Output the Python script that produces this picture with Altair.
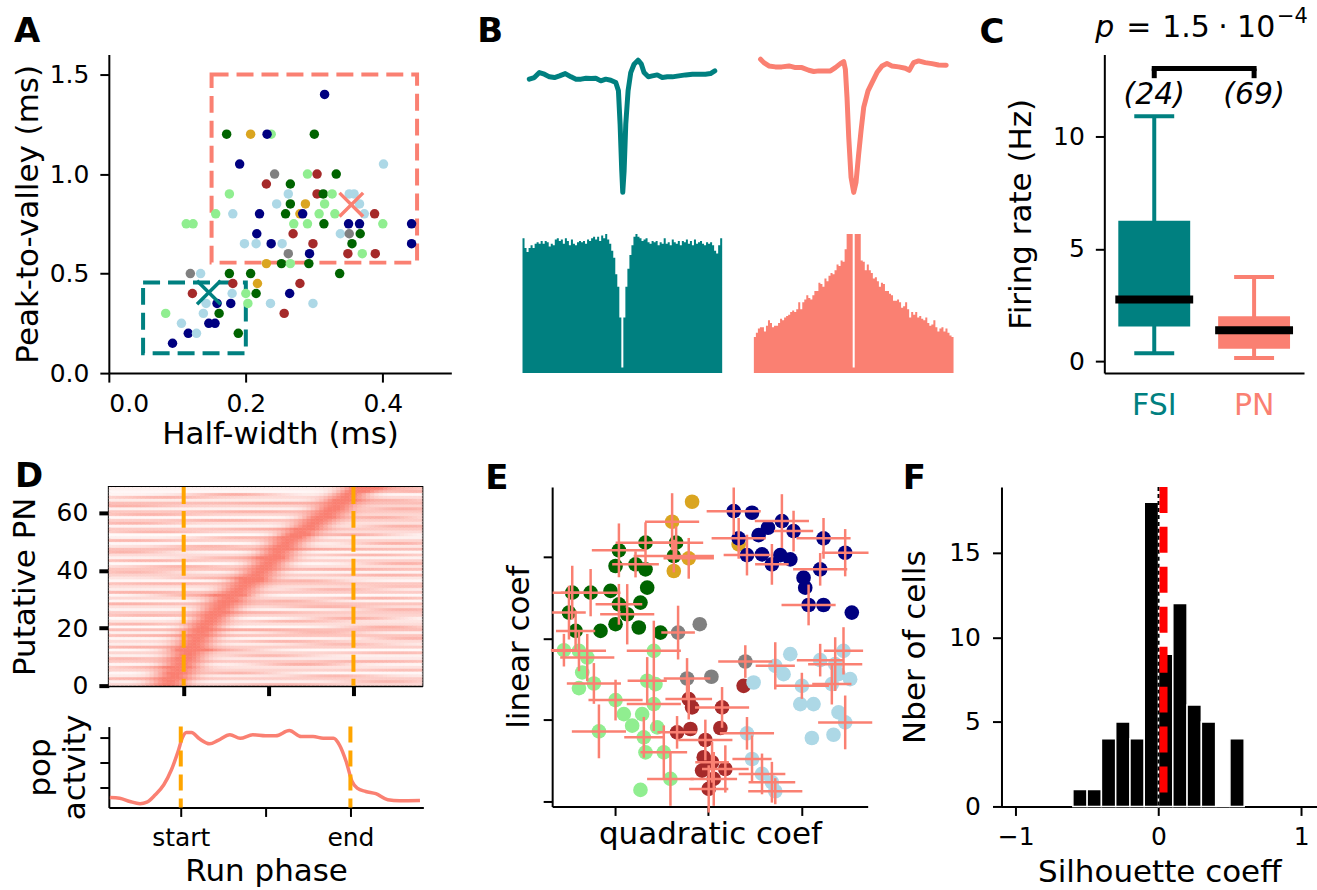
import math
import altair as alt
import pandas as pd

TEAL = "#008080"
SALMON = "#FA8072"
ORANGE = "#FFA500"
FONT = "DejaVu Sans"

# ---------------- Panel A: waveform features ----------------
A_HW = [0.315, 0.172, 0.207, 0.237, 0.231, 0.300, 0.191, 0.401, 0.242, 0.290,
        0.304, 0.332, 0.230, 0.265, 0.176, 0.262, 0.304, 0.313, 0.326, 0.351,
        0.358, 0.245, 0.265, 0.287, 0.315, 0.366, 0.156, 0.181, 0.220, 0.258,
        0.279, 0.283, 0.307, 0.330, 0.373, 0.388, 0.113, 0.123, 0.270, 0.290,
        0.314, 0.350, 0.366, 0.400, 0.442, 0.216, 0.269, 0.338, 0.351, 0.367,
        0.198, 0.215, 0.237, 0.253, 0.298, 0.355, 0.442, 0.262, 0.293, 0.349,
        0.370, 0.389, 0.230, 0.252, 0.265, 0.292, 0.119, 0.134, 0.176, 0.207,
        0.337, 0.181, 0.217, 0.279, 0.122, 0.180, 0.200, 0.215, 0.264, 0.142,
        0.158, 0.178, 0.203, 0.236, 0.298, 0.083, 0.138, 0.161, 0.256, 0.106,
        0.146, 0.155, 0.116, 0.128, 0.189, 0.093]
A_PV = [1.40, 1.20, 1.20, 1.20, 1.20, 1.20, 1.05, 1.05, 1.00, 1.00,
        1.00, 1.00, 0.95, 0.95, 0.90, 0.90, 0.90, 0.90, 0.90, 0.90,
        0.90, 0.85, 0.85, 0.85, 0.85, 0.85, 0.80, 0.80, 0.80, 0.80,
        0.80, 0.80, 0.80, 0.80, 0.80, 0.80, 0.75, 0.75, 0.75, 0.75,
        0.75, 0.75, 0.75, 0.75, 0.75, 0.70, 0.70, 0.70, 0.70, 0.70,
        0.65, 0.65, 0.65, 0.65, 0.65, 0.65, 0.65, 0.60, 0.60, 0.60,
        0.60, 0.60, 0.55, 0.55, 0.55, 0.55, 0.50, 0.50, 0.50, 0.50,
        0.50, 0.45, 0.45, 0.45, 0.40, 0.40, 0.40, 0.40, 0.40, 0.35,
        0.35, 0.35, 0.35, 0.35, 0.35, 0.30, 0.30, 0.30, 0.30, 0.25,
        0.25, 0.25, 0.20, 0.20, 0.20, 0.15]
A_COL = ["navy", "darkgreen", "goldenrod", "lightgreen", "navy", "darkgreen", "navy", "lightblue", "gray", "lightgreen",
         "brown", "darkgreen", "brown", "darkgreen", "lightgreen", "lightblue", "brown", "darkgreen", "lightgreen", "lightblue",
         "lightblue", "lightblue", "darkgreen", "goldenrod", "lightgreen", "lightblue", "lightgreen", "lightblue", "navy", "darkgreen",
         "goldenrod", "navy", "lightgreen", "lightgreen", "lightblue", "brown", "lightgreen", "lightgreen", "lightgreen", "lightgreen",
         "darkgreen", "navy", "navy", "lightgreen", "navy", "navy", "brown", "lightblue", "gray", "darkgreen",
         "lightblue", "lightblue", "navy", "lightblue", "brown", "darkgreen", "navy", "gray", "navy", "brown",
         "lightgreen", "brown", "goldenrod", "darkgreen", "lightgreen", "darkgreen", "gray", "lightblue", "darkgreen", "darkgreen",
         "darkgreen", "brown", "goldenrod", "brown", "brown", "lightblue", "lightgreen", "darkgreen", "navy", "lightblue",
         "navy", "navy", "lightgreen", "lightblue", "lightblue", "lightgreen", "lightblue", "darkgreen", "brown", "lightblue",
         "navy", "navy", "navy", "lightblue", "darkgreen", "navy"]
A_BOX_X1 = [0.05, 0.15]
A_BOX_X2 = [0.20, 0.45]
A_BOX_Y1 = [0.10, 0.555]
A_BOX_Y2 = [0.455, 1.50]
A_BOX_COL = [TEAL, SALMON]
A_CENT_HW = [0.146, 0.354]
A_CENT_PV = [0.405, 0.846]

# ---------------- Panel B: mean waveforms and autocorrelograms ----------------
WT_T = [-1.30, -1.23, -1.16, -1.09, -1.02, -0.95, -0.88, -0.80, -0.72, -0.65,
        -0.58, -0.51, -0.44, -0.375, -0.305, -0.236, -0.167, -0.097, -0.06, -0.037,
        -0.014, 0.0, 0.019, 0.042, 0.074, 0.111, 0.157, 0.213, 0.259, 0.296,
        0.356, 0.412, 0.48, 0.55, 0.62, 0.69, 0.78, 0.875, 0.97, 1.06,
        1.15, 1.22, 1.28]
WT_A = [-6.8, -5.5, -1.4, -2.7, -4.9, -5.5, -4.1, -2.2, -4.9, -6.8,
        -6.8, -6.0, -6.3, -6.0, -8.2, -6.8, -7.7, -9.6, -16.4, -43.8,
        -82.2, -100.0, -82.2, -43.8, -16.4, -1.4, 5.5, 8.8, 5.5, -1.4,
        -4.9, -4.1, -3.3, -5.5, -4.9, -4.9, -4.1, -3.3, -2.7, -2.7,
        -2.7, -2.2, 0.0]
WS_T = [-1.296, -1.25, -1.18, -1.09, -1.0, -0.90, -0.81, -0.72, -0.625, -0.556,
        -0.486, -0.394, -0.324, -0.255, -0.185, -0.139, -0.116, -0.093, -0.069, -0.037,
        0.0, 0.032, 0.069, 0.102, 0.139, 0.199, 0.255, 0.324, 0.394, 0.463,
        0.532, 0.625, 0.718, 0.773, 0.833, 0.903, 0.995, 1.088, 1.18, 1.287]
WS_A = [9.6, 6.8, 4.1, 3.3, 3.3, 4.1, 2.7, 2.7, 0.5, -0.5,
        0.0, 0.0, 0.0, 2.7, 6.0, 7.7, 1.4, -21.9, -54.8, -87.7,
        -100.0, -91.8, -68.5, -49.3, -30.1, -16.4, -9.6, -1.4, 4.1, 6.0,
        4.1, 3.3, 2.2, 0.5, 6.8, 8.2, 6.8, 6.0, 4.9, 4.7]
ACG_T = [0.97, 0.90, 0.87, 0.90, 0.92, 0.90, 0.93, 0.94, 0.93, 0.95,
         0.93, 0.95, 0.94, 0.91, 0.93, 0.92, 0.96, 0.97, 0.95, 0.96,
         0.93, 0.97, 0.95, 0.92, 0.96, 0.93, 0.92, 0.94, 0.95, 0.94,
         0.95, 0.93, 0.96, 0.95, 0.97, 0.98, 0.96, 0.98, 0.95, 0.99,
         0.97, 1.00, 0.96, 0.93, 0.88, 0.83, 0.71, 0.62, 0.40, 0.04,
         0.40, 0.62, 0.75, 0.85, 0.92, 0.98, 1.00, 0.98, 0.97, 0.95,
         0.96, 0.97, 0.94, 0.93, 0.95, 0.94, 0.95, 0.92, 0.94, 0.93,
         0.97, 0.93, 0.94, 0.92, 0.96, 0.94, 0.93, 0.95, 0.92, 0.95,
         0.94, 0.96, 0.93, 0.95, 0.92, 0.96, 0.93, 0.94, 0.95, 0.93,
         0.92, 0.94, 0.93, 0.94, 0.92, 0.88, 0.86, 0.92, 0.97]
ACG_S = [0.26, 0.29, 0.32, 0.33, 0.33, 0.30, 0.34, 0.38, 0.36, 0.33,
         0.34, 0.34, 0.36, 0.39, 0.38, 0.40, 0.41, 0.42, 0.44, 0.45,
         0.44, 0.46, 0.51, 0.46, 0.51, 0.53, 0.56, 0.54, 0.53, 0.56,
         0.59, 0.59, 0.65, 0.64, 0.62, 0.68, 0.66, 0.70, 0.72, 0.71,
         0.74, 0.78, 0.77, 0.81, 0.80, 0.89, 1.00, 1.00, 1.00, 0.04,
         1.00, 1.00, 1.00, 0.81, 0.80, 0.74, 0.78, 0.74, 0.72, 0.68,
         0.69, 0.66, 0.62, 0.65, 0.64, 0.59, 0.59, 0.57, 0.56, 0.52,
         0.52, 0.53, 0.51, 0.47, 0.48, 0.51, 0.46, 0.40, 0.44, 0.42,
         0.44, 0.40, 0.41, 0.39, 0.38, 0.40, 0.36, 0.34, 0.35, 0.38,
         0.33, 0.30, 0.32, 0.33, 0.30, 0.32, 0.29, 0.27, 0.26]

# ---------------- Panel C: firing rates ----------------
C_CAT = ["FSI", "PN"]
C_Q1 = [1.55, 0.55]
C_Q3 = [6.25, 2.00]
C_MED = [2.75, 1.38]
C_LO = [0.35, 0.14]
C_HI = [10.9, 3.75]
C_N = ["(24)", "(69)"]

# ---------------- Panel D: run-phase fields ----------------
D_PEAK = [-0.09, -0.08, -0.06, -0.05, -0.05, -0.03, -0.02, -0.01, 0.00, 0.01,
          0.02, 0.03, 0.04, 0.05, 0.06, 0.07, 0.08, 0.09, 0.10, 0.11,
          0.12, 0.135, 0.15, 0.165, 0.18, 0.20, 0.21, 0.225, 0.24, 0.255,
          0.27, 0.29, 0.31, 0.33, 0.35, 0.37, 0.39, 0.41, 0.43, 0.45,
          0.47, 0.485, 0.50, 0.515, 0.53, 0.545, 0.56, 0.575, 0.59, 0.605,
          0.62, 0.645, 0.67, 0.695, 0.72, 0.745, 0.77, 0.79, 0.815, 0.84,
          0.86, 0.88, 0.90, 0.92, 0.94, 0.96, 0.98, 1.02, 1.06]
D_BASE = [0.30, 0.10, 0.40, 0.16, 0.06, 0.34, 0.22, 0.08, 0.42, 0.18,
          0.12, 0.32, 0.05, 0.38, 0.14, 0.28, 0.08, 0.46, 0.12, 0.50,
          0.06, 0.26, 0.20, 0.05, 0.34, 0.40, 0.10, 0.24, 0.46, 0.08,
          0.30, 0.06, 0.40, 0.14, 0.26, 0.44, 0.08, 0.20, 0.36, 0.10,
          0.46, 0.24, 0.05, 0.36, 0.12, 0.28, 0.08, 0.50, 0.20, 0.06,
          0.34, 0.12, 0.04, 0.28, 0.42, 0.10, 0.24, 0.38, 0.06, 0.32,
          0.44, 0.12, 0.34, 0.50, 0.16, 0.28, 0.08, 0.06, 0.12]
D_SPOT = [0.60, 1.20, -0.30, 0.90, 0.30, 1.30, -0.20, 0.70, 1.10, -0.35,
          0.50, 1.25, 0.20, -0.25, 0.95, 0.60, 1.35, -0.10, 0.80, 0.40,
          1.20, -0.30, 0.65, 1.00, -0.20, 0.45, 1.30, 0.85, -0.35, 0.60,
          1.15, 0.10, -0.25, 0.90, 1.30, -0.10, 0.70, 0.20, 1.20, -0.30,
          0.95, 0.00, 1.30, -0.20, 0.30, 1.10, -0.35, 0.80, 0.15, 1.25,
          -0.30, 0.35, 1.00, -0.15, 0.50, 1.30, -0.30, 0.25, 1.15, -0.20,
          0.40, 1.30, -0.35, 0.55, 1.20, -0.10, 0.30, 1.35, 1.25]
D_SPOTAMP = [0.35, 0.50, 0.30, 0.45, 0.55, 0.25, 0.40, 0.60, 0.30, 0.45,
             0.50, 0.30, 0.60, 0.35, 0.45, 0.40, 0.55, 0.25, 0.50, 0.30,
             0.60, 0.40, 0.45, 0.60, 0.35, 0.30, 0.55, 0.45, 0.25, 0.55,
             0.40, 0.60, 0.35, 0.50, 0.30, 0.25, 0.55, 0.45, 0.35, 0.50,
             0.25, 0.45, 0.60, 0.35, 0.50, 0.40, 0.55, 0.25, 0.45, 0.60,
             0.35, 0.50, 0.60, 0.40, 0.30, 0.55, 0.45, 0.35, 0.60, 0.40,
             0.30, 0.55, 0.40, 0.25, 0.50, 0.40, 0.60, 0.55, 0.50]
RUN_MARKS = [0.0, 1.0]
POP_X = [-0.418, -0.36, -0.30, -0.24, -0.20, -0.15, -0.10, -0.055, -0.016, 0.01,
         0.033, 0.063, 0.11, 0.17, 0.22, 0.29, 0.35, 0.425, 0.50, 0.56,
         0.64, 0.71, 0.78, 0.84, 0.90, 0.935, 0.975, 1.01, 1.04, 1.09,
         1.15, 1.22, 1.29, 1.41]
POP_Y = [0.60, 0.57, 0.44, 0.35, 0.41, 0.71, 1.11, 1.71, 2.44, 3.00,
         3.20, 3.20, 2.95, 2.75, 2.89, 3.11, 2.97, 3.11, 3.07, 3.07,
         3.28, 3.04, 3.04, 2.97, 2.97, 2.71, 2.04, 1.24, 0.97, 0.84,
         0.75, 0.51, 0.47, 0.48]

# ---------------- Panel E: fit coefficients ----------------
E_Q = [-0.171, -0.385, -0.207, -0.367, 0.328,
       -0.955, -0.670, -0.342, -0.367, -0.991, -0.777, -0.670, -0.652, -0.724, -1.455,
       -1.258, -1.045, -1.490, -0.955, -0.866, -0.742, -0.510, -1.419, -1.152, -0.991,
       -0.321, -0.089, 0.399, -0.225, 0.036,
       0.275, 0.471, 0.791, 0.916, 0.642, 0.542, 0.328, 0.417, 0.578, 0.684,
       0.774, 0.881, 1.023, 1.041, 1.201, 1.237, 1.469, 1.077, 1.237, 1.540,
       -1.544, -1.383, -1.294, -1.348, -1.223, -1.383, -0.991, -0.902, -0.813, -0.688,
       -1.169, -0.670, -0.724, -0.403, -0.474, -0.581, -0.652, -0.563, -0.581, -0.706, -0.545,
       0.381, -0.207, -0.171, 0.150, 0.132, -0.332, -0.189, -0.029, -0.046, 0.043,
       0.185, -0.064, 0.061, 0.007,
       0.881, 0.809, 0.720, 0.488, 1.005, 0.988, 1.130, 1.201, 1.362, 1.451,
       1.398, 1.522, 1.326, 1.398, 1.469, 1.344, 1.112, 0.417, 0.471, 0.578, 0.684, 0.720]
E_L = [3.678, 3.433, 2.984, 2.829, 3.155,
       3.082, 3.176, 3.176, 3.012, 2.890, 2.910, 2.849, 2.624, 2.441, 2.563,
       2.563, 2.584, 2.318, 2.420, 2.298, 2.135, 2.073, 2.094, 2.094, 2.176,
       2.073, 2.176, 1.718, 1.510, 1.531,
       3.563, 3.543, 3.441, 3.318, 3.359, 3.269, 3.229, 3.024, 3.033, 2.910,
       3.024, 2.971, 2.747, 2.624, 2.849, 3.229, 3.053, 2.412, 2.412, 2.318,
       1.857, 1.849, 1.767, 1.584, 1.449, 1.392, 1.245, 1.073, 0.931, 0.788,
       0.861, 0.604, 0.143, 0.278, 0.604, 1.849, 1.482, 1.441, 1.196, 1.073, 0.910,
       1.420, 1.257, 1.155, 1.155, 0.902, 0.849, 0.890, 0.755, 0.543, 0.482,
       0.400, 0.380, 0.278, 0.155,
       1.808, 1.563, 1.665, 1.461, 1.420, 1.196, 1.196, 1.735, 1.686, 1.849,
       1.563, 1.502, 1.441, 1.094, 0.971, 0.820, 0.780, 0.837, 0.522, 0.339, 0.237, 0.127]
E_COL = (["goldenrod"] * 5 + ["darkgreen"] * 20 + ["gray"] * 5 + ["navy"] * 20
         + ["lightgreen"] * 21 + ["brown"] * 14 + ["lightblue"] * 22)
E_QERR = [0, 0.29, 0.27, 0, 0,
          0.29, 0.32, 0.29, 0.43, 0, 0.25, 0, 0, 0, 0.21,
          0.32, 0, 0.18, 0.25, 0.29, 0, 0, 0.21, 0, 0,
          0.18, 0, 0.29, 0.25, 0,
          0.29, 0, 0.29, 0.21, 0, 0, 0.29, 0.25, 0, 0.18,
          0, 0, 0, 0, 0.29, 0.29, 0.25, 0.29, 0, 0,
          0.14, 0.29, 0.29, 0, 0.29, 0, 0.29, 0, 0, 0.21,
          0.29, 0, 0, 0.25, 0.25, 0.29, 0.21, 0, 0.29, 0, 0,
          0, 0.25, 0, 0.29, 0, 0.21, 0, 0.29, 0, 0.18,
          0.25, 0, 0.25, 0.21,
          0, 0, 0.21, 0, 0.29, 0, 0, 0.25, 0.29, 0.21,
          0, 0, 0.21, 0, 0.29, 0, 0, 0.29, 0.21, 0.25, 0.25, 0.29]
E_LERR = [0, 0.35, 0.25, 0, 0,
          0.33, 0.25, 0.20, 0.20, 0, 0.16, 0, 0, 0, 0.33,
          0.29, 0, 0.33, 0.25, 0.37, 0, 0, 0.25, 0, 0,
          0.33, 0, 0.20, 0.25, 0,
          0.29, 0, 0.33, 0.25, 0, 0, 0.25, 0.25, 0, 0.25,
          0, 0, 0, 0, 0.20, 0.25, 0.29, 0.25, 0, 0,
          0.20, 0.25, 0.29, 0, 0.25, 0, 0.25, 0, 0, 0.25,
          0.33, 0, 0, 0.33, 0.33, 0.37, 0.29, 0, 0.33, 0, 0,
          0, 0.25, 0, 0.25, 0, 0.20, 0, 0.25, 0, 0.25,
          0.29, 0, 0.33, 0.29,
          0, 0, 0.29, 0, 0.16, 0, 0, 0.20, 0.33, 0.29,
          0, 0, 0.25, 0, 0.33, 0, 0, 0.20, 0.29, 0.25, 0.25, 0.16]

# ---------------- Panel F: silhouette histogram ----------------
F_LO = [-0.6, -0.5, -0.4, -0.3, -0.2, -0.1, 0.0, 0.1, 0.2, 0.3, 0.4, 0.5]
F_N = [1, 1, 4, 5, 4, 18, 9, 12, 6, 5, 0, 4]
F_MEAN = 0.035

LAB = 25
TIT = 31


def txt(s, x, y, size, **kw):
    return alt.Chart(pd.DataFrame({"t": [s]})).mark_text(
        align="left", baseline="alphabetic", font=FONT, fontSize=size, color="black", **kw
    ).encode(text="t:N", x=alt.value(x), y=alt.value(y))


def letter(ch, x, y):
    return txt(ch, x, y, 34, fontWeight="bold")


# ================= Panel A =================
a_df = pd.DataFrame({"hw": A_HW, "pv": A_PV, "col": A_COL})
box_df = pd.DataFrame({"x1": A_BOX_X1, "x2": A_BOX_X2, "y1": A_BOX_Y1, "y2": A_BOX_Y2, "col": A_BOX_COL})
cent_df = pd.DataFrame({"hw": A_CENT_HW, "pv": A_CENT_PV, "col": A_BOX_COL})
xA = alt.X("hw:Q", scale=alt.Scale(domain=[0, 0.5], nice=False, zero=False),
           axis=alt.Axis(values=[0, 0.2, 0.4], format=".1f", title="Half-width (ms)", labelPadding=9, titlePadding=4))
yA = alt.Y("pv:Q", scale=alt.Scale(domain=[0, 1.6], nice=False, zero=False),
           axis=alt.Axis(values=[0, 0.5, 1.0, 1.5], format=".1f", title="Peak-to-valley (ms)", labelPadding=11, titlePadding=5))
ptsA = alt.Chart(a_df).mark_circle(size=90, opacity=1).encode(x=xA, y=yA, color=alt.Color("col:N", scale=None))
boxesA = alt.Chart(box_df).mark_rect(fillOpacity=0, strokeWidth=4, strokeDash=[17, 8]).encode(
    x=alt.X("x1:Q", scale=alt.Scale(domain=[0, 0.5], nice=False, zero=False)), x2="x2:Q",
    y=alt.Y("y1:Q", scale=alt.Scale(domain=[0, 1.6], nice=False, zero=False)), y2="y2:Q",
    stroke=alt.Stroke("col:N", scale=None))
centA = alt.Chart(cent_df).mark_point(shape="M-1,-1L1,1M-1,1L1,-1", size=560, strokeWidth=3.5, filled=False, opacity=1).encode(
    x="hw:Q", y="pv:Q", stroke=alt.Stroke("col:N", scale=None))
panelA = alt.layer(boxesA, ptsA, centA, letter("A", -95, -13)).properties(width=343, height=319)

# ================= Panel B =================
BW, BH = 432, 319
wy = alt.Scale(domain=[-248.8, 13.42], nice=False, zero=False)
waveT = alt.Chart(pd.DataFrame({"t": WT_T, "a": WT_A})).mark_line(color=TEAL, strokeWidth=5, strokeJoin="round", strokeCap="round").encode(
    x=alt.X("t:Q", axis=None, scale=alt.Scale(domain=[-100.7 / 72, (BW - 100.7) / 72], nice=False, zero=False)),
    y=alt.Y("a:Q", axis=None, scale=wy))
waveS = alt.Chart(pd.DataFrame({"t": WS_T, "a": WS_A})).mark_line(color=SALMON, strokeWidth=5, strokeJoin="round", strokeCap="round").encode(
    x=alt.X("t:Q", axis=None, scale=alt.Scale(domain=[-332.0 / 72, (BW - 332.0) / 72], nice=False, zero=False)),
    y=alt.Y("a:Q", axis=None, scale=wy))
acgy = alt.Scale(domain=[0, 2.29], nice=False, zero=True)
acgT = alt.Chart(pd.DataFrame({"k": list(range(len(ACG_T) + 1)), "h": ACG_T + [ACG_T[-1]]})).mark_area(
    interpolate="step-after", color=TEAL, opacity=1).encode(
    x=alt.X("k:Q", axis=None, scale=alt.Scale(domain=[-0.15, (BW - 0.3) / 2.02], nice=False, zero=False)),
    y=alt.Y("h:Q", axis=None, scale=acgy))
acgS = alt.Chart(pd.DataFrame({"k": list(range(len(ACG_S) + 1)), "h": ACG_S + [ACG_S[-1]]})).mark_area(
    interpolate="step-after", color=SALMON, opacity=1).encode(
    x=alt.X("k:Q", axis=None, scale=alt.Scale(domain=[-232.0 / 2.02, 200.0 / 2.02], nice=False, zero=False)),
    y=alt.Y("h:Q", axis=None, scale=acgy))
panelB = alt.layer(waveT, waveS, acgT, acgS, letter("B", -45, -13)).resolve_scale(
    x="independent", y="independent").properties(width=BW, height=BH)

# ================= Panel C =================
c_df = pd.DataFrame({"cat": C_CAT, "q1": C_Q1, "q3": C_Q3, "med": C_MED, "lo": C_LO, "hi": C_HI, "n": C_N,
                     "ly": [11.85, 11.85], "blo": [12.6, 12.6], "bhi": [13.03, 13.03]})
br_df = pd.DataFrame({"a": ["FSI"], "b": ["PN"], "y": [13.03]})
cScaleX = alt.Scale(domain=C_CAT, paddingInner=0, paddingOuter=0)
cAxisX = alt.Axis(title=None, ticks=False, labelAngle=0, labelFontSize=30, labelPadding=17,
                  labelColor={"condition": {"test": "datum.value === 'FSI'", "value": TEAL}, "value": SALMON})
cScaleY = alt.Scale(domain=[-0.53, 13.65], nice=False, zero=False)
cAxisY = alt.Axis(values=[0, 5, 10], title="Firing rate (Hz)", titlePadding=15, labelPadding=11)


def xC(f="cat"):
    return alt.X(f + ":N", scale=cScaleX, axis=cAxisX, sort=C_CAT)


def yC(f):
    return alt.Y(f + ":Q", scale=cScaleY, axis=cAxisY)


colC = alt.Color("cat:N", scale=alt.Scale(domain=C_CAT, range=[TEAL, SALMON]), legend=None)
baseC = alt.Chart(c_df)
whisk = baseC.mark_rule(strokeWidth=4).encode(x=xC(), y=yC("lo"), y2="hi:Q", color=colC)
boxC = baseC.mark_bar(size=72).encode(x=xC(), y=yC("q1"), y2="q3:Q", color=colC)
capLo = baseC.mark_tick(size=40, thickness=4, opacity=1).encode(x=xC(), y=yC("lo"), color=colC)
capHi = baseC.mark_tick(size=40, thickness=4, opacity=1).encode(x=xC(), y=yC("hi"), color=colC)
medC = baseC.mark_tick(size=78, thickness=8, color="black", opacity=1).encode(x=xC(), y=yC("med"))
brEnds = baseC.mark_rule(strokeWidth=5, color="black").encode(x=xC(), y=yC("blo"), y2="bhi:Q")
brTop = alt.Chart(br_df).mark_rule(strokeWidth=5, color="black", strokeCap="square").encode(
    x=alt.X("a:N", scale=cScaleX, axis=cAxisX), x2="b:N", y=yC("y"))
nLab = baseC.mark_text(fontStyle="italic", fontSize=30, font=FONT, baseline="middle", color="black").encode(
    x=xC(), y=yC("ly"), text="n:N")
panelC = alt.layer(
    whisk, boxC, capLo, capHi, medC, brEnds, brTop, nLab,
    letter("C", -125, -12),
    txt("p", -9, -18, 30, fontStyle="italic"),
    txt("=", 22, -18, 30),
    txt("1.5", 58, -18, 30),
    txt("\u00b7", 114, -18, 30),
    txt("10", 133, -18, 30),
    txt("\u22124", 173, -32, 21),
).properties(width=200, height=319)

# ================= Panel D =================
X0, X1, NCOL = -0.45, 1.425, 75
dxc = (X1 - X0) / NCOL
cells = []
for r in range(len(D_PEAK)):
    for c in range(NCOL):
        xa = X0 + c * dxc
        xm = xa + dxc / 2
        b = D_BASE[r]
        main = math.exp(-0.5 * ((xm - D_PEAK[r]) / 0.085) ** 2)
        spot = D_SPOTAMP[r] * math.exp(-0.5 * ((xm - D_SPOT[r]) / 0.2) ** 2)
        v = min(1.0, b + (1 - b) * (main + spot))
        cells.append({"x0": xa, "x1": xa + dxc, "r0": r, "r1": r + 1, "v": v})
heat_df = pd.DataFrame(cells)
hx = alt.Scale(domain=[-0.441, 1.406], nice=False, zero=False)
heatScale = alt.Scale(domain=[0, 1], range=["#ffffff", SALMON], interpolate="rgb")
heat = alt.Chart(heat_df).mark_rect(clip=True, strokeWidth=0.6).encode(
    x=alt.X("x0:Q", scale=hx, axis=alt.Axis(values=[0, 0.5, 1], labels=False, title=None, tickSize=10, tickWidth=4)),
    x2="x1:Q",
    y=alt.Y("r0:Q", scale=alt.Scale(domain=[0, 69], nice=False, zero=False),
            axis=alt.Axis(values=[0, 20, 40, 60], title="Putative PN", tickSize=10, tickWidth=4, labelPadding=11, titlePadding=15)),
    y2="r1:Q",
    color=alt.Color("v:Q", scale=heatScale, legend=None),
    stroke=alt.Stroke("v:Q", scale=heatScale, legend=None))
heatRules = alt.Chart(pd.DataFrame({"p": RUN_MARKS})).mark_rule(color=ORANGE, strokeWidth=4, strokeDash=[17, 7]).encode(
    x=alt.X("p:Q", scale=hx))
panelDheat = alt.layer(heat, heatRules, letter("D", -94, 0)).properties(
    width=314, height=199, view=alt.ViewBackground(stroke="black", strokeWidth=2))

px_ = alt.Scale(domain=[-0.424, 1.43], nice=False, zero=False)
popLine = alt.Chart(pd.DataFrame({"p": POP_X, "a": POP_Y})).mark_line(color=SALMON, strokeWidth=3.5, interpolate="monotone").encode(
    x=alt.X("p:Q", scale=px_, axis=alt.Axis(values=[0, 0.5, 1],
                                            labelExpr="datum.value == 0 ? 'start' : (datum.value == 1 ? 'end' : '')",
                                            title="Run phase", labelPadding=9, titlePadding=6)),
    y=alt.Y("a:Q", scale=alt.Scale(domain=[0.2, 3.44], nice=False, zero=False),
            axis=alt.Axis(values=[1, 2, 3], labels=False, title=["pop", "actvity"], titlePadding=7, titleLineHeight=35)))
popRules = alt.Chart(pd.DataFrame({"p": RUN_MARKS})).mark_rule(color=ORANGE, strokeWidth=4, strokeDash=[16, 8]).encode(
    x=alt.X("p:Q", scale=px_))
panelDpop = alt.layer(popLine, popRules).properties(width=315, height=81)
panelD = alt.vconcat(panelDheat, panelDpop, spacing=14)

# ================= Panel E =================
e_df = pd.DataFrame({"q": E_Q, "l": E_L, "col": E_COL, "qe": E_QERR, "le": E_LERR})
e_df["q1"] = e_df["q"] - e_df["qe"]
e_df["q2"] = e_df["q"] + e_df["qe"]
e_df["l1"] = e_df["l"] - e_df["le"]
e_df["l2"] = e_df["l"] + e_df["le"]
eb = e_df[e_df["qe"] > 0]
ex = alt.Scale(domain=[-1.67, 1.71], nice=False, zero=False)
ey = alt.Scale(domain=[-0.06, 3.86], nice=False, zero=False)
eAx = alt.Axis(values=[-1, 0, 1], labels=False, title="quadratic coef", titlePadding=3)
eAy = alt.Axis(values=[0, 1, 2, 3], labels=False, title="linear coef", titlePadding=7)
ptsE = alt.Chart(e_df).mark_circle(size=215, opacity=1).encode(
    x=alt.X("q:Q", scale=ex, axis=eAx), y=alt.Y("l:Q", scale=ey, axis=eAy), color=alt.Color("col:N", scale=None))
hE = alt.Chart(eb).mark_rule(color=SALMON, strokeWidth=2.5).encode(
    x=alt.X("q1:Q", scale=ex, axis=eAx), x2="q2:Q", y=alt.Y("l:Q", scale=ey, axis=eAy))
vE = alt.Chart(eb).mark_rule(color=SALMON, strokeWidth=2.5).encode(
    x=alt.X("q:Q", scale=ex, axis=eAx), y=alt.Y("l1:Q", scale=ey, axis=eAy), y2="l2:Q")
panelE = alt.layer(ptsE, hE, vE, letter("E", -67, 2)).properties(width=316, height=320)

# ================= Panel F =================
f_df = pd.DataFrame({"lo": F_LO, "hi": [v + 0.1 for v in F_LO], "n": F_N, "z": [0] * len(F_N)})
fx = alt.Scale(domain=[-1.1, 1.11], nice=False, zero=False)
fy = alt.Scale(domain=[0, 18.9], nice=False, zero=True)
fAx = alt.Axis(values=[-1, 0, 1], format="d", title="Silhouette coeff", labelPadding=9, titlePadding=8)
fAy = alt.Axis(values=[0, 5, 10, 15], title="Nber of cells", labelPadding=12, titlePadding=17)
barsF = alt.Chart(f_df).mark_rect(color="black", stroke="white", strokeWidth=1.5).encode(
    x=alt.X("lo:Q", scale=fx, axis=fAx), x2="hi:Q",
    y=alt.Y("n:Q", scale=fy, axis=fAy), y2="z:Q")
zeroF = alt.Chart(pd.DataFrame({"z": [0.0]})).mark_rule(color="black", strokeWidth=2, strokeDash=[4, 3]).encode(
    x=alt.X("z:Q", scale=fx, axis=fAx))
meanF = alt.Chart(pd.DataFrame({"m": [F_MEAN]})).mark_rule(color="red", strokeWidth=8, strokeDash=[26, 14]).encode(
    x=alt.X("m:Q", scale=fx, axis=fAx))
panelF = alt.layer(barsF, zeroF, meanF, letter("F", -99, 2)).properties(width=316, height=320)

# ================= Layout =================
top = alt.hconcat(panelA, panelB, panelC, spacing=26)
bottom = alt.hconcat(alt.hconcat(panelD, panelE, spacing=58), panelF, spacing=26)
chart = alt.vconcat(top, bottom, spacing=9).properties(
    padding={"left": 8, "top": 5, "right": 0, "bottom": 0}
).configure_axis(
    labelFont=FONT, titleFont=FONT, labelFontSize=LAB, titleFontSize=TIT, titleFontWeight="normal",
    labelColor="black", titleColor="black", domainColor="black", tickColor="black",
    domainWidth=2, tickWidth=2, tickSize=9, grid=False
).configure_view(strokeWidth=0)

chart.save("out.html", embed_options={"renderer": "svg", "actions": False})
